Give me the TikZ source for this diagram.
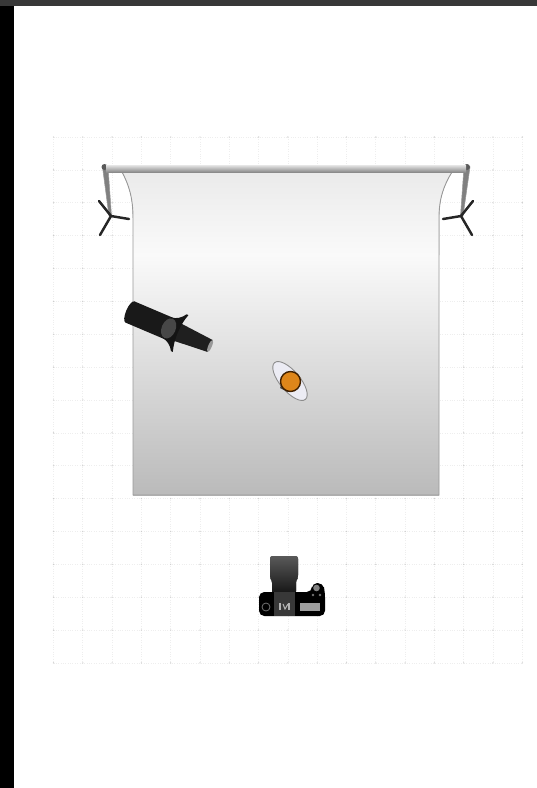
\documentclass[tikz,border=0pt]{standalone}
\usepackage{tikz}
\definecolor{gridgrey}{RGB}{238, 238, 238}
\definecolor{dotgrey}{RGB}{205, 205, 205}
\definecolor{orangeball}{RGB}{222, 134, 26}
\definecolor{ringblue}{RGB}{236, 236, 244}

\begin{document}
\begin{tikzpicture}[x=0.02cm, y=-0.02cm,
    gridline/.style={gridgrey, line width=0.35pt, densely dotted},
    standpole/.style={fill=black!50, draw=black!40, line width=0.3pt},
    standleg/.style={black!85, line width=1.4pt, line cap=round}]

\useasboundingbox (0,0) rectangle (537,788);
\fill[white] (0,0) rectangle (537,788);

% Window edges
\fill[black] (0,0) rectangle (14,788);
\fill[black!78] (0,0) rectangle (537,6);

% Floor grid
\foreach \i in {0,...,16} {
  \draw[gridline] ({53.5+29.3*\i},137) -- ({53.5+29.3*\i},663);
  \draw[gridline] (53.5,{137+32.87*\i}) -- (522.3,{137+32.87*\i});
}
\foreach \i in {0,...,16} {
  \foreach \j in {0,...,16} {
    \fill[dotgrey] ({53.5+29.3*\i},{137+32.87*\j}) circle (0.7);
  }
}

% Backdrop paper, top part then lower part
\fill[top color=black!8, bottom color=black!2] (122,172) .. controls (129,185) and (133,198) .. (133,218)
  -- (133,255) -- (439,255) -- (439,218) .. controls (439,198) and (444,185) .. (452,172) -- cycle;
\fill[top color=black!2, bottom color=black!27] (133,255) rectangle (439,495);
\draw[black!40, line width=0.5pt] (122,172) .. controls (129,185) and (133,198) .. (133,218)
  -- (133,495) -- (439,495) -- (439,218) .. controls (439,198) and (444,185) .. (452,172);

% Left stand
\fill[standpole] (102.5,167) -- (108,167) -- (111.5,216) -- (109,216) -- cycle;
\fill[black!65] (104.5,167) circle (3);
\draw[standleg] (111,216) -- (99,201);
\draw[standleg] (111,216) -- (100,235);
\draw[standleg] (111,216) -- (129,219);

% Right stand
\fill[standpole] (464,167) -- (470,167) -- (463,216) -- (460.5,216) -- cycle;
\fill[black!65] (467,167) circle (3);
\draw[standleg] (461,216) -- (473,201);
\draw[standleg] (461,216) -- (472,235);
\draw[standleg] (461,216) -- (443,219);

% Crossbar
\fill[top color=black!10, bottom color=black!48] (106,165) rectangle (466,172.5);

% Flash head with snoot
\begin{scope}[shift={(130,312)}, rotate=-23]
  \fill[black!90] (0,-11.5) -- (45,-11.5) -- (45,11.5) -- (0,11.5) -- cycle;
  \fill[black!90] (0,0) ellipse (4 and 11.5);
  \fill[black!88] (50,-9.5) -- (87,-6.5) -- (87,6.5) -- (50,9.5) -- cycle;
  \fill[black!40] (87,0) ellipse (1.8 and 6.5);
  \fill[black!92] (40,-11) .. controls (46,-12) and (50,-15) .. (53,-20)
    -- (55,-20) .. controls (51,-8) and (51,8) .. (55,20) -- (53,20)
    .. controls (50,15) and (46,12) .. (40,11) -- cycle;
  \fill[black!72] (42,0) ellipse (7 and 10.5);
\end{scope}

% Subject seen from above
\draw[fill=ringblue, draw=black!45, line width=0.5pt, rotate around={-50:(290,381)}] (290,381) ellipse (24 and 10);
\fill[black!70] (280,388) -- (284,376) -- (288,392) -- cycle;
\draw[fill=orangeball, draw=black!75!orange, line width=0.8pt] (290.5,381.5) circle (10);

% Camera body
\fill[top color=black!65, bottom color=black!92, rounded corners=1.5pt] (270,556) -- (298,556) -- (298,578)
  -- (296,580) -- (296,594) -- (272,594) -- (272,580) -- (270,578) -- cycle;
\fill[black, rounded corners=3pt] (259,616) -- (259,592) -- (312,592) -- (312,583) -- (323,583) -- (325,592) -- (325,616) -- cycle;
\fill[black!78] (274,592) rectangle (295,616);
\draw[black!55, line width=0.45pt] (266,607) circle (4);
\fill[black!38] (300,603) rectangle (320,611);
\fill[black!50] (316.5,588) circle (3.3);
\fill[black!55] (313,595) circle (1.3);
\fill[black!55] (320,595) circle (1.3);

% Mark on the viewfinder
\draw[black!30, line width=0.6pt] (280,603) -- (280,610);
\draw[black!30, line width=0.6pt] (283,604) -- (285,609) -- (288,604);
\draw[black!30, line width=0.6pt] (289,603) -- (289,610);

\end{tikzpicture}
\end{document}
